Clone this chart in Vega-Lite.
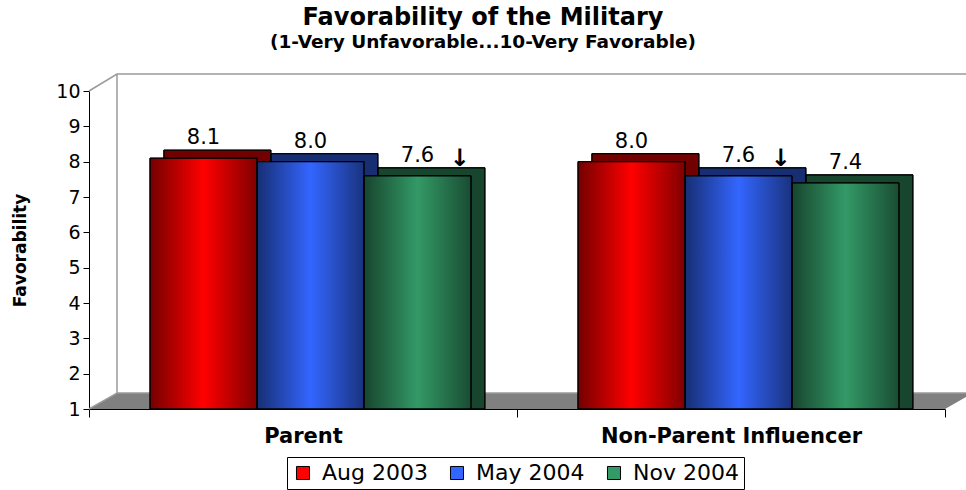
{
  "$schema": "https://vega.github.io/schema/vega-lite/v6.json",
  "autosize": {"type": "none"},
  "width": 856,
  "height": 318,
  "padding": {"left": 89, "top": 91, "right": 21, "bottom": 81},
  "background": "white",
  "title": {
    "text": "Favorability of the Military",
    "subtitle": "(1-Very Unfavorable...10-Very Favorable)",
    "font": "DejaVu Sans",
    "fontSize": 24,
    "fontWeight": "bold",
    "subtitleFont": "DejaVu Sans",
    "subtitleFontSize": 18.5,
    "subtitleFontWeight": "bold",
    "subtitleColor": "black",
    "subtitlePadding": 3,
    "color": "black",
    "anchor": "middle",
    "dx": -34,
    "offset": 20
  },
  "config": {
    "view": {"stroke": null},
    "axis": {"domainColor": "black", "tickColor": "black", "labelColor": "black", "titleColor": "black", "grid": false},
    "axisY": {"values": [1,2,3,4,5,6,7,8,9,10], "labelOverlap": false, "tickCount": 10, "title": "Favorability", "titleFont": "DejaVu Sans", "titleFontSize": 17,
              "titleFontWeight": "bold", "titlePadding": 26, "labelFont": "DejaVu Sans", "labelFontSize": 19,
              "tickSize": 6, "labelPadding": 3}
  },
  "resolve": {"scale": {"x": "independent", "xOffset": "independent"}},
  "layer": [
    {
      "data": {"values": [
        {"part": "floor", "px": 0, "lo": 1, "hi": 1},
        {"part": "floor", "px": 0.0327, "lo": 1, "hi": 1.45},
        {"part": "floor", "px": 1, "lo": 1, "hi": 1.45},
        {"part": "floor", "px": 1.0327, "lo": 1.45, "hi": 1.45}
      ]},
      "mark": {"type": "area", "color": "#808080", "clip": false, "interpolate": "linear"},
      "encoding": {
        "x": {"field": "px", "type": "quantitative", "scale": {"domain": [0, 1], "nice": false, "zero": false}, "axis": null},
        "y": {"field": "lo", "type": "quantitative", "scale": {"domain": [1, 10], "zero": false, "nice": false},
              "axis": {"values": [1,2,3,4,5,6,7,8,9,10], "title": "Favorability"}},
        "y2": {"field": "hi"}
      }
    },
    {
      "data": {"values": [
        {"edge": "top", "px": 0, "py": 10, "ord": 1},
        {"edge": "top", "px": 0.0327, "py": 10.48, "ord": 2},
        {"edge": "top", "px": 1.05, "py": 10.48, "ord": 3},
        {"edge": "wall", "px": 0.0327, "py": 10.48, "ord": 1},
        {"edge": "wall", "px": 0.0327, "py": 1.45, "ord": 2},
        {"edge": "back", "px": 0.0327, "py": 1.45, "ord": 1},
        {"edge": "back", "px": 1.0327, "py": 1.45, "ord": 2},
        {"edge": "base", "px": 0, "py": 1, "ord": 1},
        {"edge": "base", "px": 0.0327, "py": 1.45, "ord": 2}
      ]},
      "mark": {"type": "line", "color": "#9a9a9a", "strokeWidth": 1.5, "clip": false},
      "encoding": {
        "x": {"field": "px", "type": "quantitative", "scale": {"domain": [0, 1], "nice": false, "zero": false}, "axis": null},
        "y": {"field": "py", "type": "quantitative", "axis": {"values": [1,2,3,4,5,6,7,8,9,10], "title": "Favorability"}},
        "detail": {"field": "edge"},
        "order": {"field": "ord"}
      }
    },
    {
      "data": {"name": "bars", "values": [
        {"group": "Parent", "period": "Aug 2003", "value": 8.1, "arrow": ""},
        {"group": "Parent", "period": "May 2004", "value": 8.0, "arrow": ""},
        {"group": "Parent", "period": "Nov 2004", "value": 7.6, "arrow": "↓"},
        {"group": "Non-Parent Influencer", "period": "Aug 2003", "value": 8.0, "arrow": ""},
        {"group": "Non-Parent Influencer", "period": "May 2004", "value": 7.6, "arrow": "↓"},
        {"group": "Non-Parent Influencer", "period": "Nov 2004", "value": 7.4, "arrow": ""}
      ]},
      "encoding": {
        "x": {
          "field": "group", "type": "nominal", "sort": ["Parent", "Non-Parent Influencer"],
          "scale": {"paddingInner": 0, "paddingOuter": 0},
          "axis": {"title": null, "labelAngle": 0, "labelFont": "DejaVu Sans", "labelFontSize": 21, "labelFontWeight": "bold",
                   "tickBand": "extent", "tickSize": 8, "labelPadding": 8, "domainWidth": 1, "labelLimit": 500}
        },
        "y": {
          "field": "value", "type": "quantitative",
          "axis": {"values": [1,2,3,4,5,6,7,8,9,10], "title": "Favorability"}
        }
      },
      "resolve": {"scale": {"xOffset": "independent"}},
      "layer": [
        {
          "mark": {"type": "bar", "yOffset": -8, "stroke": "black", "strokeWidth": 1},
          "encoding": {
            "xOffset": {"field": "period", "type": "nominal", "scale": {"paddingInner": 0, "paddingOuter": 0.5, "align": 0.7}},
            "y2": {"datum": 1},
            "color": {"field": "period", "type": "nominal", "title": null,
                      "scale": {"domain": ["Aug 2003", "May 2004", "Nov 2004"], "range": ["#ff0000", "#3366ff", "#339966"]},
                      "legend": {"orient": "none", "legendX": 198, "legendY": 366, "direction": "horizontal",
                                 "labelFont": "DejaVu Sans", "labelFontSize": 22, "labelColor": "black",
                                 "symbolType": "square", "symbolSize": 170, "symbolStrokeColor": "black", "symbolStrokeWidth": 1,
                                 "symbolOpacity": 1, "labelOffset": 8, "columnPadding": 18,
                                 "strokeColor": "black", "padding": 5, "fillColor": "white"}}
          }
        },
        {
          "mark": {"type": "bar", "yOffset": -8, "fill": "black", "fillOpacity": 0.55, "stroke": "black", "strokeWidth": 1},
          "encoding": {
            "xOffset": {"field": "period", "type": "nominal", "scale": {"paddingInner": 0, "paddingOuter": 0.5, "align": 0.7}},
            "y2": {"datum": 1}
          }
        },
        {
          "mark": {"type": "bar", "stroke": "black", "strokeWidth": 1},
          "encoding": {
            "xOffset": {"field": "period", "type": "nominal", "scale": {"paddingInner": 0, "paddingOuter": 0.5, "align": 0.57}},
            "y2": {"datum": 1},
            "color": {"field": "period", "type": "nominal"}
          }
        },
        {
          "mark": {"type": "bar", "stroke": "black", "strokeWidth": 1,
                   "fill": {"gradient": "linear", "x1": 0, "y1": 0, "x2": 1, "y2": 0,
                            "stops": [{"offset": 0, "color": "rgba(0,0,0,0.55)"}, {"offset": 0.5, "color": "rgba(0,0,0,0)"}, {"offset": 1, "color": "rgba(0,0,0,0.5)"}]}},
          "encoding": {
            "xOffset": {"field": "period", "type": "nominal", "scale": {"paddingInner": 0, "paddingOuter": 0.5, "align": 0.57}},
            "y2": {"datum": 1}
          }
        },
        {
          "mark": {"type": "text", "dy": -14, "baseline": "alphabetic", "font": "DejaVu Sans", "fontSize": 21, "color": "black"},
          "encoding": {
            "xOffset": {"field": "period", "type": "nominal", "bandPosition": 0.5, "scale": {"type": "band", "paddingInner": 0, "paddingOuter": 0.5, "align": 0.57}},
            "text": {"field": "value", "type": "quantitative", "format": ".1f"}
          }
        },
        {
          "mark": {"type": "text", "dx": 42, "dy": -10, "baseline": "alphabetic", "font": "DejaVu Sans", "fontSize": 24, "fontWeight": "bold", "color": "black"},
          "encoding": {
            "xOffset": {"field": "period", "type": "nominal", "bandPosition": 0.5, "scale": {"type": "band", "paddingInner": 0, "paddingOuter": 0.5, "align": 0.57}},
            "text": {"field": "arrow"}
          }
        }
      ]
    }
  ]
}
